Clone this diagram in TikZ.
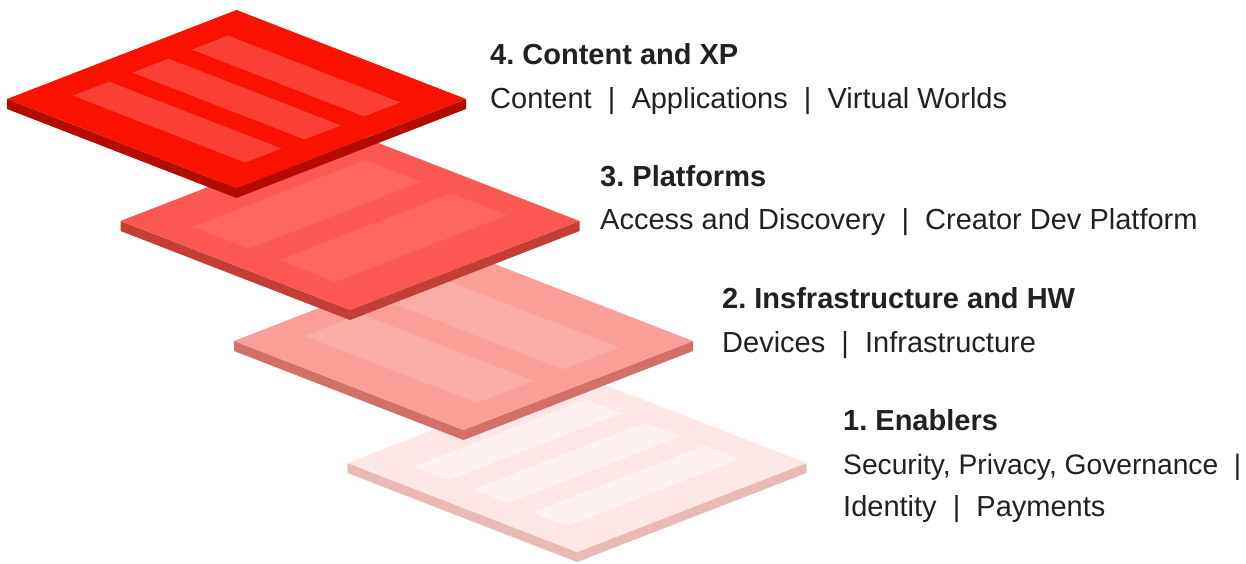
\documentclass[tikz,border=0pt]{standalone}
\usepackage{fontspec}
\setmainfont{Liberation Sans}
\frenchspacing
\definecolor{txt}{HTML}{212121}
\definecolor{topD}{HTML}{F91200}\definecolor{sideD}{HTML}{B30D00}\definecolor{strD}{HTML}{FC4035}
\definecolor{topC}{HTML}{FA5850}\definecolor{sideC}{HTML}{C33F35}\definecolor{strC}{HTML}{FC665D}
\definecolor{topB}{HTML}{FA9E97}\definecolor{sideB}{HTML}{D16F68}\definecolor{strB}{HTML}{FBACA7}
\definecolor{topA}{HTML}{FDE6E6}\definecolor{sideA}{HTML}{E9BAB6}\definecolor{strA}{HTML}{FEF1F1}
\tikzset{
  ttl/.style={anchor=base west, inner sep=0pt, text=txt, font=\fontsize{29}{36}\selectfont\bfseries},
  sub/.style={anchor=base west, inner sep=0pt, text=txt, font=\fontsize{29}{42}\selectfont, align=left},
}
% slab: #1 cx, #2 cy, #3 top, #4 side, #5 stripe colour, #6 stripe paths
\newcommand\myslab[6]{%
  \begin{scope}[shift={(#1,#2)}]
    \begin{scope}[shift={(-229.5pt,0pt)}, x={(229.5pt,89pt)}, y={(229.5pt,-89pt)}]
      \fill[#4] (0,0) -- (0,1) -- (1,1) -- ([yshift=-10pt]1,1) -- ([yshift=-10pt]0,1) -- ([yshift=-10pt]0,0) -- cycle;
      \fill[#3] (0,0) -- (1,0) -- (1,1) -- (0,1) -- cycle;
      \fill[#5] #6;
    \end{scope}
  \end{scope}}
\newcommand\su[2]{(#1,0.125) -- (#2,0.125) -- (#2,0.876) -- (#1,0.876) -- cycle}
\newcommand\sv[2]{(0.125,#1) -- (0.876,#1) -- (0.876,#2) -- (0.125,#2) -- cycle}
\begin{document}
\begin{tikzpicture}[x=1pt,y=-1pt]
\useasboundingbox (0,0) rectangle (1246,563);
\myslab{577}{463}{topA}{sideA}{strA}{\sv{0.164}{0.317} \sv{0.421}{0.576} \sv{0.68}{0.833}}
\myslab{463.5}{341}{topB}{sideB}{strB}{\su{0.182}{0.428} \su{0.558}{0.803}}
\myslab{350}{221}{topC}{sideC}{strC}{\sv{0.19}{0.435} \sv{0.565}{0.81}}
\myslab{236.5}{99}{topD}{sideD}{strD}{\su{0.162}{0.32} \su{0.421}{0.579} \su{0.68}{0.838}}

\node[ttl] (t4) at (490,64) {4. Content and XP};
\node[sub] (s4) at (490,108) {Content~~|~~Applications~~|~~Virtual Worlds};
\node[ttl] (t3) at (600,186) {3. Platforms};
\node[sub] (s3) at (600,229) {Access and Discovery~~|~~Creator Dev Platform};
\node[ttl] (t2) at (722,308) {2. Insfrastructure and HW};
\node[sub] (s2) at (722,352) {Devices~~|~~Infrastructure};
\node[ttl] (t1) at (843,430) {1. Enablers};
\node[sub, font=\fontsize{28.2}{42}\selectfont] (s1) at (843,474) {Security, Privacy, Governance\hspace{0.55em}|};
\node[sub] (s1b) at (843,516) {Identity~~|~~Payments};
\end{tikzpicture}
\end{document}
